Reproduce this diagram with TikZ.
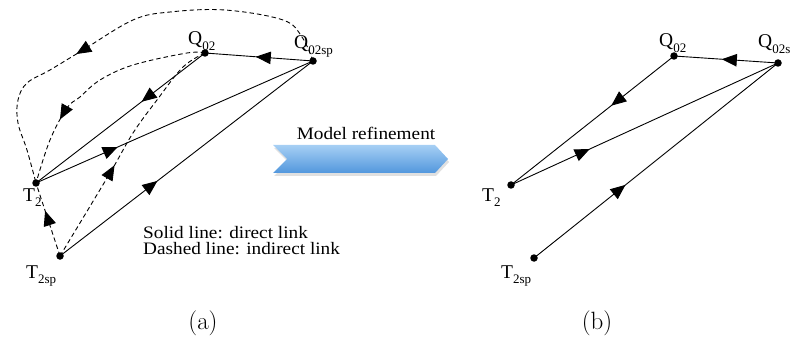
\documentclass[tikz,border=0pt]{standalone}
\usepackage{fontspec}
\newfontfamily\tms{Liberation Serif}
\newfontfamily\cam[FakeStretch=1.1]{Liberation Serif}
\usetikzlibrary{decorations.markings,arrows.meta}
\newcommand\lsub[1]{\raisebox{-0.3em}{\fontsize{13}{13}\selectfont #1}}
\definecolor{chevtop}{HTML}{A6CFF4}
\definecolor{chevbot}{HTML}{5297DD}
\tikzset{
  dot/.style={circle,fill=black,inner sep=0pt,minimum size=7.5pt},
  lbl/.style={font=\tms\fontsize{19.5}{19.5}\selectfont,anchor=base west,inner sep=0pt},
  txt/.style={font=\cam\fontsize{17.5}{17.5}\selectfont,inner sep=0pt},
  captxt/.style={font=\fontsize{25}{25}\selectfont,inner sep=0pt},
  solidlink/.style={line width=0.9pt},
  dashlink/.style={line width=0.9pt,dash pattern=on 4.5pt off 3pt},
  midarrow/.style={postaction={decorate},decoration={markings,
    mark=at position #1 with {\arrow{Triangle[length=15pt,width=12.5pt]}}}}
}
\begin{document}
\begin{tikzpicture}[x=1pt,y=-1pt]
\useasboundingbox (0,0) rectangle (793,342);
% ---------- panel (a) ----------
\node[dot] (aQ) at (205,53) {};
\node[dot] (aQsp) at (313,61) {};
\node[dot] (aT) at (36,183) {};
\node[dot] (aTsp) at (60,256) {};
\node[lbl] (laQ) at (188,45) {Q\lsub{02}};
\node[lbl] (laQsp) at (294,49) {Q\lsub{02sp}};
\node[lbl] (laT) at (23,201) {T\lsub{2}};
\node[lbl] (laTsp) at (26,278) {T\lsub{2sp}};
% solid links
\draw[solidlink,midarrow=0.53] (aQsp.center) -- (aQ.center);
\draw[solidlink,midarrow=0.375] (aQ.center) -- (aT.center);
\draw[solidlink,midarrow=0.295] (aT.center) -- (aQsp.center);
\draw[solidlink,midarrow=0.385] (aTsp.center) -- (aQsp.center);
% dashed links
\draw[dashlink,midarrow=0.62] (aTsp.center) -- (aT.center);
\draw[dashlink,midarrow=0.42] plot[smooth,tension=0.6] coordinates
  {(aTsp.center) (110,173) (133,133) (157,100) (183,67) (aQ.center)};
\draw[dashlink,midarrow=0.71] plot[smooth,tension=0.6] coordinates
  {(aQ.center) (187,53) (133,65) (100,80) (80,97) (67,108) (50,140) (aT.center)};
\draw[dashlink,midarrow=0.625] plot[smooth,tension=0.6] coordinates
  {(aQsp.center) (302,37) (283,20) (225,10) (170,12) (133,20) (83,50) (50,70) (27,83) (18,100) (18,123) (27,150) (aT.center)};
\node[txt,anchor=base west] (leg1) at (143,238) {Solid line: direct link};
\node[txt,anchor=base west] (leg2) at (143,254) {Dashed line: indirect link};
% ---------- chevron ----------
\fill[black,opacity=0.12] (274,148) -- (436,148) -- (449,162) -- (436,176) -- (274,176) -- (288,162) -- cycle;
\shade[top color=chevtop,bottom color=chevbot] (273,145) -- (435,145) -- (448,159) -- (435,173) -- (273,173) -- (287,159) -- cycle;
\node[txt,anchor=base] (mref) at (366,140) {Model refinement};
% ---------- panel (b) ----------
\node[dot] (bQ) at (674,56) {};
\node[dot] (bQsp) at (778,63) {};
\node[dot] (bT) at (511,185) {};
\node[dot] (bTsp) at (534,258) {};
\node[lbl] (lbQ) at (659,47) {Q\lsub{02}};
\node[lbl] (lbQsp) at (758,48) {Q\lsub{02s}};
\node[lbl] (lbT) at (482,201) {T\lsub{2}};
\node[lbl] (lbTsp) at (501,278) {T\lsub{2sp}};
\draw[solidlink,midarrow=0.54] (bQsp.center) -- (bQ.center);
\draw[solidlink,midarrow=0.385] (bQ.center) -- (bT.center);
\draw[solidlink,midarrow=0.295] (bT.center) -- (bQsp.center);
\draw[solidlink,midarrow=0.375] (bTsp.center) -- (bQsp.center);
% ---------- captions ----------
\node[captxt] (capa) at (203,323) {(a)};
\node[captxt] (capb) at (597,323) {(b)};
\end{tikzpicture}
\end{document}
